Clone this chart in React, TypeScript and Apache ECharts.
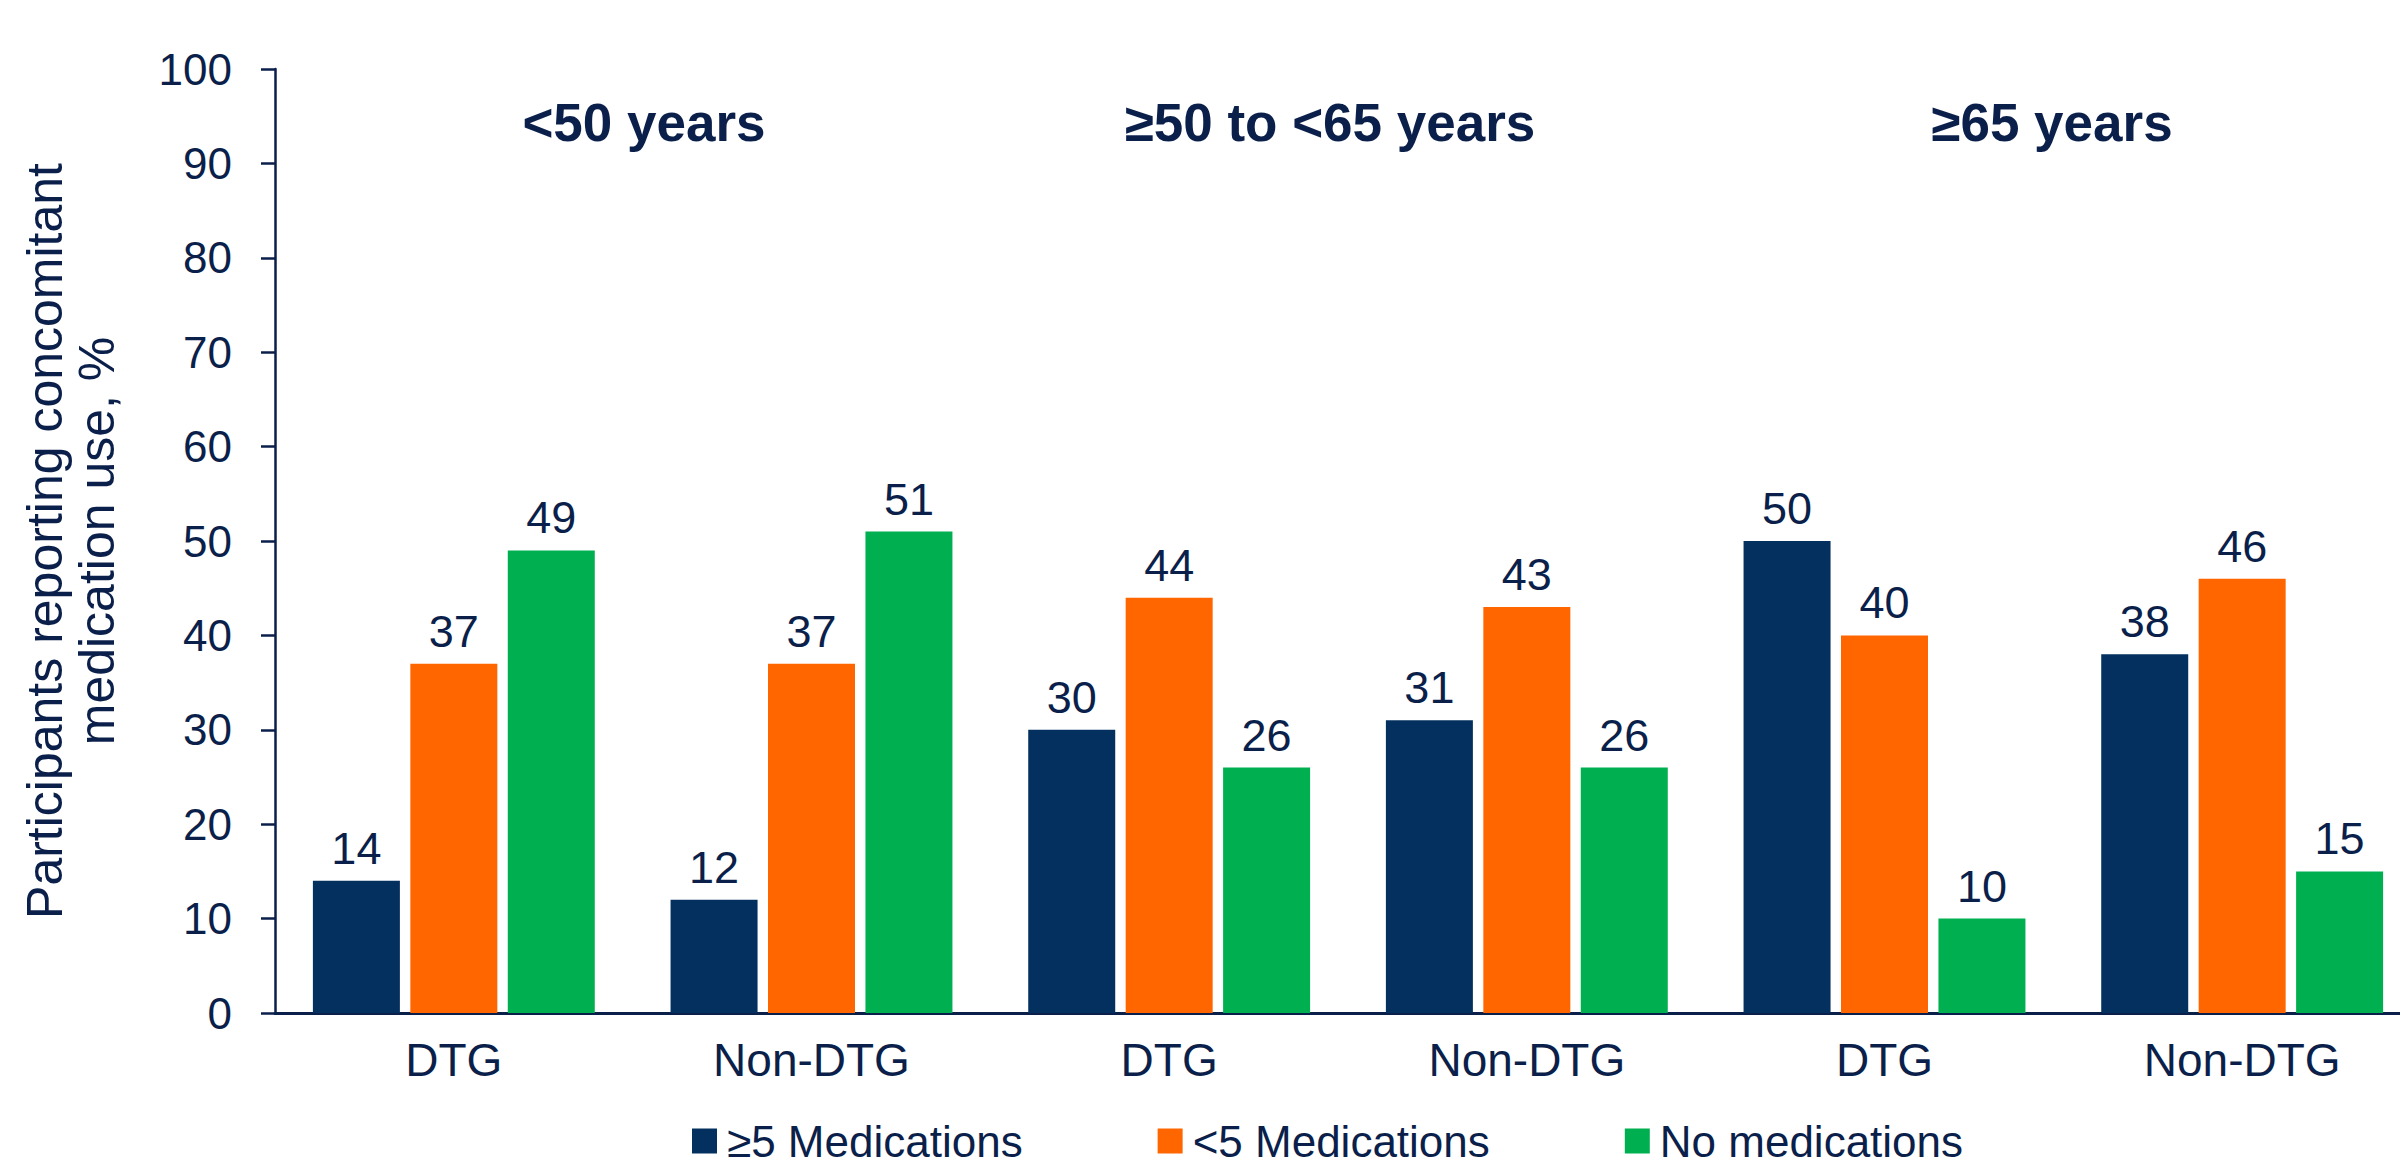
import React, { useEffect, useRef } from "react";
import * as echarts from "echarts";

const ageGroups = ["<50 years", "≥50 to <65 years", "≥65 years"];
const treatments = ["DTG", "Non-DTG"];
const seriesNames = ["≥5 Medications", "<5 Medications", "No medications"];
const fivePlus = [14, 12, 30, 31, 50, 38];
const lessThanFive = [37, 37, 44, 43, 40, 46];
const noMeds = [49, 51, 26, 26, 10, 15];
const yTicks = { min: 0, max: 100, interval: 10 };
const yAxisTitle = "Participants reporting concomitant\nmedication use, %";

const NAVY = "#03305F";
const ORANGE = "#FF6600";
const GREEN = "#00B050";
const TEXT = "#0B1F4B";
const FONT = "'Liberation Sans', Arial, sans-serif";

export default function App() {
  const ref = useRef<HTMLDivElement>(null);
  useEffect(() => {
    if (!ref.current) return;
    const chart = echarts.init(ref.current, null, { renderer: "svg" });
    const categories = ageGroups.flatMap((a) => treatments.map((t) => `${a}|${t}`));
    const values = [fivePlus, lessThanFive, noMeds];
    const colors = [NAVY, ORANGE, GREEN];
    const titleX = [644, 1330, 2052];
    chart.setOption({
      animation: false,
      backgroundColor: "#ffffff",
      textStyle: { fontFamily: FONT, color: TEXT },
      grid: {
        left: 275,
        top: 69,
        width: 2146,
        height: 944,
        containLabel: false,
        outerBoundsMode: "none",
      },
      legend: {
        left: 692,
        top: 1119,
        padding: 0,
        itemWidth: 25,
        itemHeight: 25,
        itemGap: 135,
        icon: "rect",
        textStyle: {
          fontSize: 44,
          lineHeight: 36,
          color: TEXT,
          fontFamily: FONT,
          padding: [0, 0, 0, 5],
        },
        data: seriesNames,
      },
      xAxis: {
        type: "category",
        data: categories,
        axisLine: { show: true, lineStyle: { color: TEXT, width: 3 } },
        axisTick: { show: false },
        axisLabel: {
          fontSize: 46,
          color: TEXT,
          margin: 24,
          fontFamily: FONT,
          formatter: (v: string) => v.split("|")[1],
        },
      },
      yAxis: {
        type: "value",
        min: yTicks.min,
        max: yTicks.max,
        interval: yTicks.interval,
        splitLine: { show: false },
        axisLine: { show: true, lineStyle: { color: TEXT, width: 2.5 } },
        axisTick: { show: true, length: 14, lineStyle: { color: TEXT, width: 2.5 } },
        axisLabel: { fontSize: 44, color: TEXT, margin: 43, fontFamily: FONT },
        name: yAxisTitle,
        nameLocation: "middle",
        nameRotate: 90,
        nameGap: 152,
        nameTextStyle: { fontSize: 50, color: TEXT, lineHeight: 52, fontFamily: FONT },
      },
      series: seriesNames.map((name, i) => ({
        name,
        type: "bar",
        data: values[i],
        barWidth: 87,
        barGap: "12%",
        itemStyle: { color: colors[i] },
        label: {
          show: true,
          position: "top",
          distance: 10,
          fontSize: 45,
          color: TEXT,
          fontFamily: FONT,
        },
      })),
      graphic: ageGroups.map((g, k) => ({
        type: "text",
        x: titleX[k],
        y: 122,
        style: {
          text: g,
          align: "center",
          verticalAlign: "middle",
          fontSize: 53,
          fontWeight: "bold",
          fill: TEXT,
          fontFamily: FONT,
        },
      })),
    });
    return () => chart.dispose();
  }, []);
  return (
    <div
      ref={ref}
      style={{ position: "fixed", left: 0, top: 0, width: 2400, height: 1165, background: "#fff" }}
    />
  );
}
